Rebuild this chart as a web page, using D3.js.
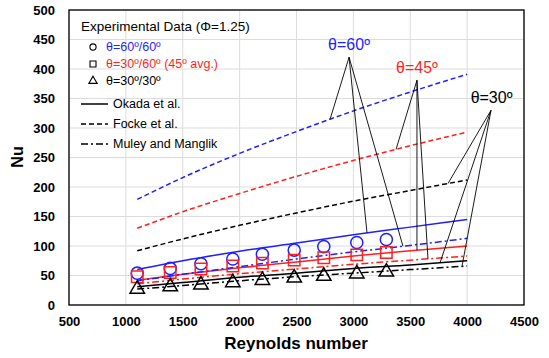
<!DOCTYPE html>
<html>
<head>
<meta charset="utf-8">
<script src="https://cdnjs.cloudflare.com/ajax/libs/d3/7.8.5/d3.min.js"></script>
<style>
  body { margin: 0; background: #fff; }
  svg { font-family: "Liberation Sans", Arial, sans-serif; }
</style>
</head>
<body>
<svg width="549" height="358"></svg>
<script>
var svg = d3.select("svg");

// experimental points
var reExp = [1100, 1390, 1660, 1940, 2200, 2480, 2740, 3030, 3290];
var nu60 = [54, 62, 70, 78, 86, 93, 99, 106, 111];
var nu45 = [48, 55, 61, 66, 71, 76, 80, 85, 89];
var nu30 = [27, 31, 34, 38, 42, 46, 49, 53, 56];

// correlations
var reCorr = [1100, 1500, 2000, 2500, 3000, 3500, 4000];
var okada60 = [60, 75, 91, 105, 119, 132, 145];
var okada45 = [42, 52, 63, 73, 83, 92, 100];
var okada30 = [31, 38, 47, 54, 62, 68, 75];
var focke60 = [179, 216, 257, 294, 329, 361, 391];
var focke45 = [130, 158, 189, 218, 245, 270, 293];
var focke30 = [92, 112, 135, 156, 176, 194, 212];
var muley60 = [41, 52, 65, 78, 90, 101, 113];
var muley45 = [36, 44, 53, 61, 69, 76, 83];
var muley30 = [27, 33, 41, 48, 54, 60, 66];

var xTicks = [500, 1000, 1500, 2000, 2500, 3000, 3500, 4000, 4500];
var yTicks = [0, 50, 100, 150, 200, 250, 300, 350, 400, 450, 500];

var blue = "#1f1fff", red = "#ff1f1f", black = "#000";

var x = d3.scaleLinear().domain([500, 4500]).range([69, 524]);
var y = d3.scaleLinear().domain([0, 500]).range([305, 10]);

// grid
svg.append("g").selectAll("line").data(xTicks).enter().append("line")
    .attr("x1", d => x(d)).attr("x2", d => x(d))
    .attr("y1", y(0)).attr("y2", y(500))
    .attr("stroke", "#dcdcdc").attr("stroke-width", 1);
svg.append("g").selectAll("line").data(yTicks).enter().append("line")
    .attr("x1", x(500)).attr("x2", x(4500))
    .attr("y1", d => y(d)).attr("y2", d => y(d))
    .attr("stroke", "#dcdcdc").attr("stroke-width", 1);

// axes (labels only)
var xAxis = svg.append("g").attr("transform", "translate(0," + y(0) + ")")
    .call(d3.axisBottom(x).tickValues(xTicks).tickSize(0).tickPadding(12).tickFormat(d3.format("d")));
var yAxis = svg.append("g").attr("transform", "translate(" + x(500) + ",0)")
    .call(d3.axisLeft(y).tickValues(yTicks).tickSize(0).tickPadding(14).tickFormat(d3.format("d")));
[xAxis, yAxis].forEach(function(a) {
    a.select(".domain").remove();
    a.selectAll("text").attr("font-size", 13).attr("font-weight", "bold")
        .attr("font-family", "Liberation Sans, Arial, sans-serif").attr("fill", "#000");
});

svg.append("text").attr("x", 296).attr("y", 349).attr("text-anchor", "middle")
    .attr("font-size", 17).attr("font-weight", "bold").text("Reynolds number");
svg.append("text").attr("transform", "translate(23,157) rotate(-90)").attr("text-anchor", "middle")
    .attr("font-size", 16).attr("font-weight", "bold").text("Nu");

// lines
var styles = { okada: null, focke: "5,3", muley: "7,3,2,3" };
var series = [
    { vals: focke60, c: blue, s: "focke" }, { vals: focke45, c: red, s: "focke" }, { vals: focke30, c: black, s: "focke" },
    { vals: okada60, c: blue, s: "okada" }, { vals: okada45, c: red, s: "okada" }, { vals: okada30, c: black, s: "okada" },
    { vals: muley60, c: blue, s: "muley" }, { vals: muley45, c: red, s: "muley" }, { vals: muley30, c: black, s: "muley" }
];
var line = d3.line().x((d, i) => x(reCorr[i])).y(d => y(d)).curve(d3.curveMonotoneX);
svg.append("g").selectAll("path").data(series).enter().append("path")
    .attr("d", d => line(d.vals))
    .attr("fill", "none").attr("stroke", d => d.c).attr("stroke-width", 1.5)
    .attr("stroke-dasharray", d => styles[d.s]);

// markers
function drawMarkers(vals, color, type, size) {
    svg.append("g").selectAll("path").data(vals).enter().append("path")
        .attr("transform", (d, i) => "translate(" + x(reExp[i]) + "," + y(d) + ")")
        .attr("d", d3.symbol().type(type).size(size))
        .attr("fill", "none").attr("stroke", color).attr("stroke-width", 1.5);
}
drawMarkers(nu60, blue, d3.symbolCircle, 115);
drawMarkers(nu45, red, d3.symbolSquare, 130);
drawMarkers(nu30, black, d3.symbolTriangle, 90);

// annotations
var annotations = [
    { label: "θ=60º", c: blue, lx: 2962, ly: 442, ax: 2962, ay: 420,
      targets: [[2795, focke60], [3120, okada60], [3436, muley60]] },
    { label: "θ=45º", c: red, lx: 3559, ly: 403, ax: 3559, ay: 381,
      targets: [[3375, focke45], [3559, okada45], [3656, muley45]] },
    { label: "θ=30º", c: black, lx: 4215, ly: 352, ax: 4210, ay: 330,
      targets: [[3832, focke30], [3762, okada30], [3955, muley30]] }
];
annotations.forEach(function(a) {
    a.targets.forEach(function(t) {
        var f = d3.scaleLinear().domain(reCorr).range(t[1]);
        svg.append("line").attr("x1", x(a.ax)).attr("y1", y(a.ay))
            .attr("x2", x(t[0])).attr("y2", y(f(t[0])))
            .attr("stroke", "#000").attr("stroke-width", 0.9);
    });
    svg.append("text").attr("x", x(a.lx)).attr("y", y(a.ly)).attr("dy", "0.35em")
        .attr("text-anchor", "middle").attr("font-size", 16).attr("fill", a.c).text(a.label);
});

// legend
var lg = svg.append("g").attr("font-size", 12.5);
lg.append("text").attr("x", 81).attr("y", 26).attr("dy", "0.35em").attr("font-size", 13.5)
    .text("Experimental Data (Φ=1.25)");
var mk = [
    { t: d3.symbolCircle, c: blue, txt: "θ=60º/60º", y: 47, size: 30 },
    { t: d3.symbolSquare, c: red, txt: "θ=30º/60º (45º avg.)", y: 64, size: 36 },
    { t: d3.symbolTriangle, c: black, txt: "θ=30º/30º", y: 81, size: 30 }
];
mk.forEach(function(m) {
    lg.append("path").attr("transform", "translate(93," + m.y + ")")
        .attr("d", d3.symbol().type(m.t).size(m.size))
        .attr("fill", "none").attr("stroke", "#000").attr("stroke-width", 1.1);
    lg.append("text").attr("x", 106).attr("y", m.y).attr("dy", "0.35em").attr("fill", m.c).text(m.txt);
});
var lk = [
    { s: "okada", txt: "Okada et al.", y: 104 },
    { s: "focke", txt: "Focke et al.", y: 124 },
    { s: "muley", txt: "Muley and Manglik", y: 144 }
];
lk.forEach(function(l) {
    lg.append("line").attr("x1", 81).attr("x2", 108).attr("y1", l.y).attr("y2", l.y)
        .attr("stroke", "#000").attr("stroke-width", 1.5).attr("stroke-dasharray", styles[l.s]);
    lg.append("text").attr("x", 113).attr("y", l.y).attr("dy", "0.35em").text(l.txt);
});

// frame
svg.append("rect").attr("x", x(500)).attr("y", y(500))
    .attr("width", x(4500) - x(500)).attr("height", y(0) - y(500))
    .attr("fill", "none").attr("stroke", "#000").attr("stroke-width", 1.3);
</script>
</body>
</html>
